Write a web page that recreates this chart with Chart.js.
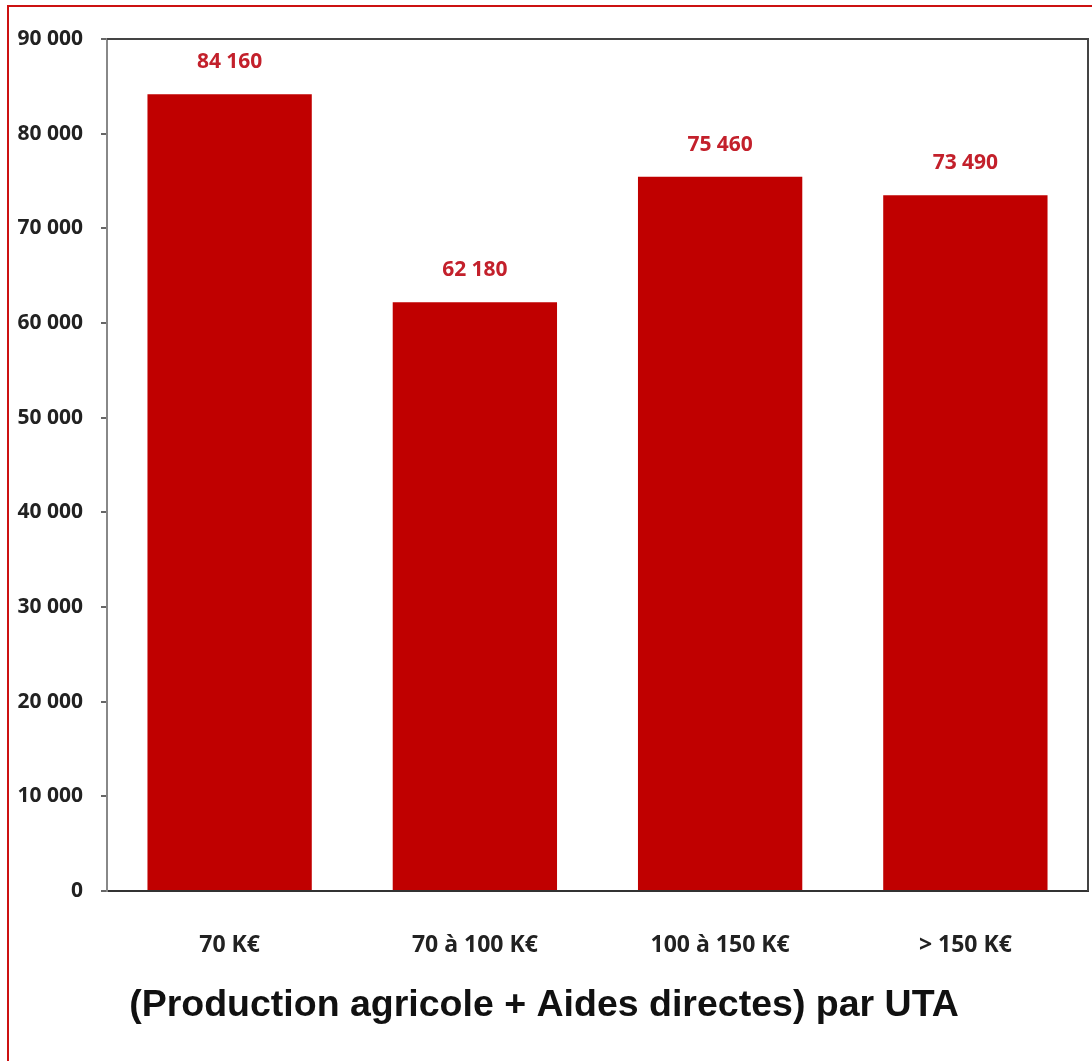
<!DOCTYPE html>
<html>
<head>
<meta charset="utf-8">
<title>Production agricole + Aides directes par UTA</title>
<script src="https://cdn.jsdelivr.net/npm/chart.js@4/dist/chart.umd.min.js"></script>
<style>
  html, body { margin: 0; padding: 0; background: #fff; overflow: hidden; }
  #wrap { position: relative; width: 1092px; height: 1061px; }
  #frame { position: absolute; left: 7px; top: 5px; width: 1200px; height: 1200px;
           border: 2px solid #cc1111; box-sizing: border-box; pointer-events: none; }
</style>
</head>
<body>
<div id="wrap">
  <canvas id="uta" width="1092" height="1061"></canvas>
  <div id="frame"></div>
</div>
<script>
/* Valeurs */
const categories = ['70 K€', '70 à 100 K€', '100 à 150 K€', '> 150 K€'];
const valeurs = [84160, 62180, 75460, 73490];
const yTicks = [0, 10000, 20000, 30000, 40000, 50000, 60000, 70000, 80000, 90000];
const titre = '(Production agricole + Aides directes) par UTA';

const police = "'Open Sans', Roboto, sans-serif";

function formatFr(v) {
    return String(v).replace(/\B(?=(\d{3})+(?!\d))/g, ' ');
}

// étiquettes de valeur au-dessus des barres
const etiquettes = {
    id: 'etiquettes',
    afterDatasetsDraw(chart) {
        const ctx = chart.ctx;
        const meta = chart.getDatasetMeta(0);
        ctx.save();
        ctx.font = 'bold 21px ' + police;
        ctx.fillStyle = '#c3202b';
        ctx.textAlign = 'center';
        ctx.textBaseline = 'middle';
        meta.data.forEach(function(bar, i) {
            ctx.fillText(formatFr(valeurs[i]), bar.x, bar.y - 32);
        });
        ctx.restore();
    }
};

// cadre du haut et de droite
const cadre = {
    id: 'cadre',
    beforeDatasetsDraw(chart) {
        const a = chart.chartArea;
        const ctx = chart.ctx;
        ctx.save();
        ctx.strokeStyle = '#444';
        ctx.lineWidth = 2;
        ctx.beginPath();
        ctx.moveTo(a.left, a.top);
        ctx.lineTo(a.right, a.top);
        ctx.lineTo(a.right, a.bottom);
        ctx.stroke();
        ctx.restore();
    }
};

new Chart(document.getElementById('uta'), {
    type: 'bar',
    data: {
        labels: categories,
        datasets: [{
            label: 'UTA',
            data: valeurs,
            backgroundColor: '#c00000',
            borderWidth: 0,
            categoryPercentage: 0.67,
            barPercentage: 1.0
        }]
    },
    options: {
        responsive: false,
        animation: false,
        layout: { padding: { left: 0, right: 4, top: 39, bottom: 33 } },
        plugins: {
            legend: { display: false },
            tooltip: { enabled: false },
            title: {
                display: true,
                position: 'bottom',
                text: titre,
                color: '#111',
                font: { family: "'Liberation Sans', Arial, sans-serif", size: 37.5, weight: 'bold', lineHeight: 1.2 },
                padding: { top: 0, bottom: 0 }
            }
        },
        scales: {
            x: {
                grid: { display: false },
                border: { display: true, color: '#333', width: 2 },
                ticks: {
                    color: '#222',
                    font: { family: police, size: 23, weight: 'bold' },
                    padding: 33,
                    maxRotation: 0
                },
                afterFit: function(s) { s.height = 92; }
            },
            y: {
                min: 0,
                max: 90000,
                afterBuildTicks: function(s) { s.ticks = yTicks.map(function(v) { return { value: v }; }); },
                grid: { drawOnChartArea: false, drawTicks: true, tickLength: 6, color: '#666', lineWidth: 2 },
                border: { display: true, color: '#888', width: 2 },
                ticks: {
                    color: '#222',
                    font: { family: police, size: 21, weight: 'bold' },
                    padding: 18,
                    callback: function(v) { return formatFr(v); }
                },
                afterFit: function(s) { s.width = 107; }
            }
        }
    },
    plugins: [etiquettes, cadre]
});
</script>
</body>
</html>
